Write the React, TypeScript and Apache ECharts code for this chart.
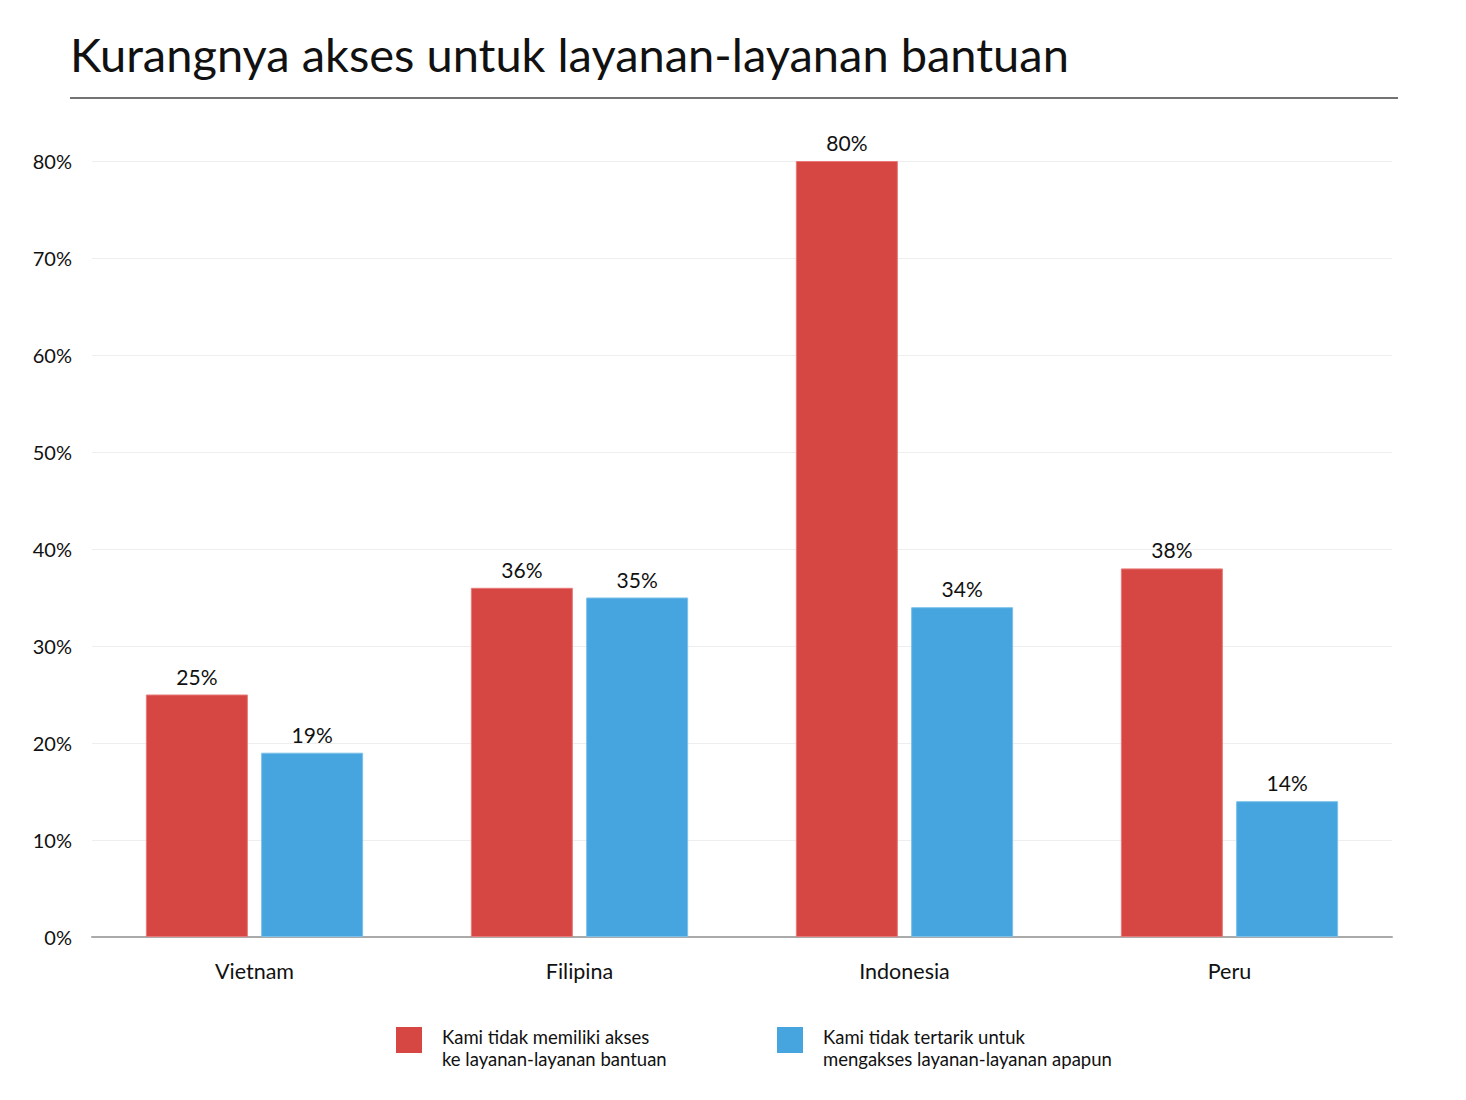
import React, { useEffect, useRef } from "react";
import * as echarts from "echarts";

const categories = ["Vietnam", "Filipina", "Indonesia", "Peru"];
const seriesNames = [
  "Kami tidak memiliki akses\nke layanan-layanan bantuan",
  "Kami tidak tertarik untuk\nmengakses layanan-layanan apapun",
];
const noAccess = [25, 36, 80, 38];
const notInterested = [19, 35, 34, 14];
const yTicks = [0, 10, 20, 30, 40, 50, 60, 70, 80];
const titleText = "Kurangnya akses untuk layanan-layanan bantuan";

const RED = "#d64744";
const BLUE = "#46a5de";
const FONT = "Lato, 'Noto Sans', sans-serif";

export default function App() {
  const ref = useRef<HTMLDivElement>(null);
  useEffect(() => {
    const chart = echarts.init(ref.current!, null, { renderer: "svg" });
    const legendText = {
      fontFamily: FONT,
      fontSize: 18.5,
      fill: "#111",
      lineHeight: 22,
    };
    const legendItems = [
      { x: 396, color: RED, text: seriesNames[0] },
      { x: 777, color: BLUE, text: seriesNames[1] },
    ];
    const graphic: any[] = [
      {
        type: "line",
        shape: { x1: 70, y1: 98, x2: 1398, y2: 98 },
        style: { stroke: "#444", lineWidth: 1.5 },
      },
    ];
    legendItems.forEach((it) => {
      graphic.push({
        type: "rect",
        shape: { x: it.x, y: 1027, width: 26, height: 26 },
        style: { fill: it.color },
      });
      graphic.push({
        type: "text",
        x: it.x + 46,
        y: 1026,
        style: { ...legendText, text: it.text, textVerticalAlign: "top" },
      });
    });
    const labelStyle = {
      show: true,
      position: "top",
      distance: 8,
      formatter: "{c}%",
      fontFamily: FONT,
      fontSize: 21,
      color: "#111",
    };
    chart.setOption({
      animation: false,
      backgroundColor: "#ffffff",
      title: {
        text: titleText,
        left: 65,
        top: 25,
        textStyle: { fontFamily: FONT, fontSize: 47, fontWeight: "normal", color: "#111" },
      },
      graphic,
      grid: { left: 92, right: 74, top: 161, bottom: 163, containLabel: false },
      xAxis: {
        type: "category",
        data: categories,
        axisLine: { lineStyle: { color: "#aaaaaa", width: 2 } },
        axisTick: { show: false },
        axisLabel: { fontFamily: FONT, fontSize: 21.5, color: "#111", margin: 23 },
      },
      yAxis: {
        type: "value",
        min: yTicks[0],
        max: yTicks[yTicks.length - 1],
        interval: 10,
        axisLine: { show: false },
        axisTick: { show: false },
        splitLine: { lineStyle: { color: "#eeeeee", width: 1 } },
        axisLabel: {
          fontFamily: FONT,
          fontSize: 20,
          color: "#111",
          margin: 20,
          formatter: (v: number) => v + "%",
        },
      },
      series: [
        {
          name: seriesNames[0],
          type: "bar",
          data: noAccess,
          barWidth: 102,
          barGap: "13%",
          itemStyle: { color: RED, borderColor: "#e77a78", borderWidth: 1 },
          label: labelStyle,
        },
        {
          name: seriesNames[1],
          type: "bar",
          data: notInterested,
          barWidth: 102,
          barGap: "13%",
          itemStyle: { color: BLUE, borderColor: "#7cc0ea", borderWidth: 1 },
          label: labelStyle,
        },
      ],
    });
    return () => chart.dispose();
  }, []);
  return (
    <div
      ref={ref}
      style={{ position: "fixed", left: 0, top: 0, width: 1466, height: 1100, background: "#fff" }}
    />
  );
}
